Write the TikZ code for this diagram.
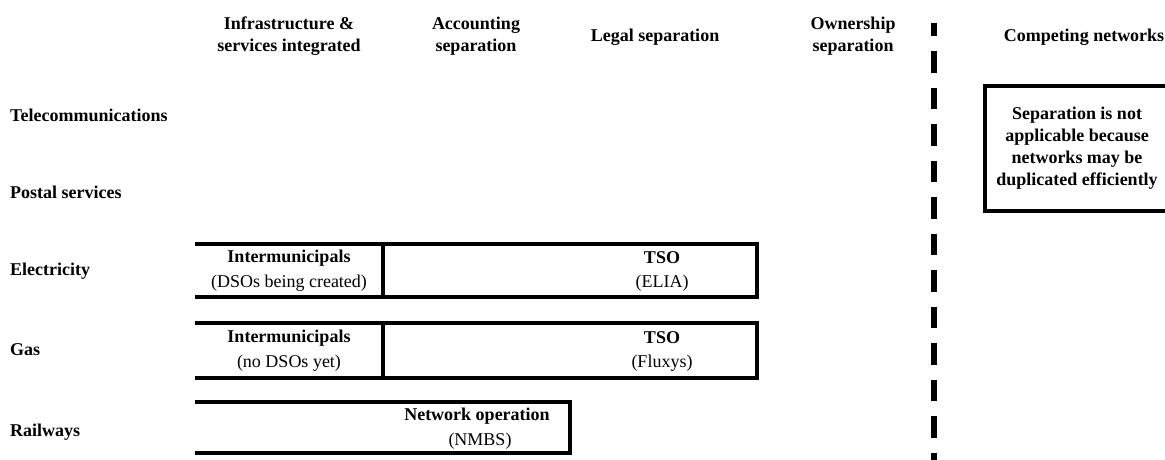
\documentclass[tikz,border=0pt]{standalone}
\usepackage{fontspec}
\setmainfont{Liberation Serif}
\usepackage{tikz}
\newcommand{\barwidth}{4.5pt}

\begin{document}
\begin{tikzpicture}[x=1pt,y=-1pt,
    every node/.style={font=\fontsize{18}{22}\selectfont, inner sep=0pt},
    head/.style={font=\fontsize{18}{22}\selectfont\bfseries, align=center},
    row/.style={font=\fontsize{18}{22}\selectfont\bfseries, anchor=west},
    title/.style={font=\fontsize{18}{22}\selectfont\bfseries},
    sub/.style={font=\fontsize{18}{22}\selectfont}]
\clip (0,0) rectangle (1165,459);
    % column heads
\node (hint) at (289,36) [head] {Infrastructure \&\\services integrated};
\node (hacc) at (476,36) [head] {Accounting\\separation};
\node (hleg) at (655,37) [head] {Legal separation};
\node (hown) at (853,36) [head] {Ownership\\separation};
\node (hcomp) at (1084,37) [head] {Competing networks};
    % rows
\node (tele) at (10,115) [row] {Telecommunications};
\node (post) at (10,192) [row] {Postal services};
\node (elec) at (10,271) [row] {Electricity};
\node (gas) at (10,350) [row] {Gas};
\node (rail) at (10,432) [row] {Railways};
    % boxes
\draw[line width=\barwidth] (195,244) -- (757,244) -- (757,297) -- (195,297);
\draw[line width=\barwidth] (383,244) -- (383,297);
\draw[line width=\barwidth] (195,323) -- (757,323) -- (757,378) -- (195,378);
\draw[line width=\barwidth] (383,323) -- (383,378);
\draw[line width=\barwidth] (195,402) -- (570,402) -- (570,453) -- (195,453);
\draw[line width=\barwidth] (1180,86) -- (985,86) -- (985,211) -- (1180,211);
    % box texts
\node (eim) at (289,258) [title] {Intermunicipals};
\node (edso) at (289,283) [sub] {(DSOs being created)};
\node (etso) at (662,258) [title] {TSO};
\node (eelia) at (662,283) [sub] {(ELIA)};
\node (gim) at (289,338) [title] {Intermunicipals};
\node (gdso) at (289,363) [sub] {(no DSOs yet)};
\node (gtso) at (662,338) [title] {TSO};
\node (gflux) at (662,363) [sub] {(Fluxys)};
\node (rnet) at (477,416) [title] {Network operation};
\node (rnmbs) at (480,441) [sub] {(NMBS)};
\node (comp) at (1077,148) [head] {Separation is not\\applicable because\\networks may be\\duplicated efficiently};
    % divider
\draw[line width=6pt, dash pattern=on 21.5pt off 15pt, dash phase=8.5pt] (934,23) -- (934,470);
\end{tikzpicture}
\end{document}
